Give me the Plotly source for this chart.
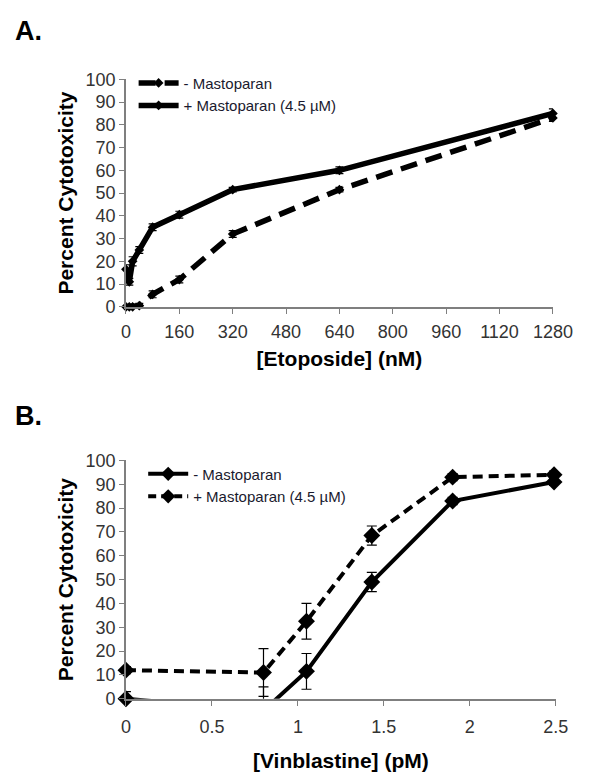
import plotly.graph_objects as go

# ---------------- Data ----------------
# Panel A: Etoposide (nM)
eto_dose = [0, 10, 20, 40, 80, 160, 320, 640, 1280]
eto_minus = [0, 0, 0, 0.5, 5.5, 12, 32, 51.5, 83]
eto_minus_err = [1, 1, 1, 1, 1.5, 1.5, 1.5, 1, 1.5]
eto_plus = [16.5, 11, 20, 25, 35, 40.5, 51.5, 60, 85]
eto_plus_err = [2, 1.5, 2, 1.5, 1.5, 1.5, 1, 1.5, 2]
eto_ticks = [0, 160, 320, 480, 640, 800, 960, 1120, 1280]

# Panel B: Vinblastine (pM)
vin_dose = [0, 0.8, 1.05, 1.43, 1.9, 2.49]
vin_minus = [0, -5, 11.5, 49, 83, 91]
vin_minus_err = [3, 10, 7.5, 4, 1.5, 1.5]
vin_plus = [12, 11, 32.5, 68.5, 93, 94]
vin_plus_err = [1.5, 10, 7.5, 4, 1.5, 1.5]
vin_ticks = [0, 0.5, 1, 1.5, 2, 2.5]
vin_ticklabels = ["0", "0.5", "1", "1.5", "2", "2.5"]

y_ticks = list(range(0, 101, 10))

FONT = "Arial, Liberation Sans, sans-serif"
OFF = 8                      # default page body margin
W, H = 601 - 2 * OFF, 780 - 2 * OFF

def px(x):
    return (x - OFF) / W

def py(y):
    return 1 - (y - OFF) / H

fig = go.Figure()

# ---------- Panel A ----------
fig.add_trace(go.Scatter(
    x=eto_dose, y=eto_minus, mode="lines+markers", name="- Mastoparan",
    line=dict(color="black", width=5.5, dash="17px,9px"),
    marker=dict(symbol="diamond", size=7.5, color="black"),
    error_y=dict(type="data", array=eto_minus_err, color="black", thickness=1.2, width=4),
    cliponaxis=False, xaxis="x", yaxis="y", legend="legend"))
fig.add_trace(go.Scatter(
    x=eto_dose, y=eto_plus, mode="lines+markers", name="+ Mastoparan (4.5 µM)",
    line=dict(color="black", width=5.5),
    marker=dict(symbol="diamond", size=7.5, color="black"),
    error_y=dict(type="data", array=eto_plus_err, color="black", thickness=1.2, width=4),
    cliponaxis=False, xaxis="x", yaxis="y", legend="legend"))

# ---------- Panel B ----------
vis = [v >= 0 for v in vin_minus]
fig.add_trace(go.Scatter(
    x=vin_dose, y=vin_minus, mode="lines", showlegend=False,
    line=dict(color="black", width=4),
    error_y=dict(type="data", array=[0 if s else e for s, e in zip(vis, vin_minus_err)],
                 arrayminus=[0] * len(vin_dose), color="black", thickness=1.2, width=5),
    cliponaxis=True, xaxis="x2", yaxis="y2"))
fig.add_trace(go.Scatter(
    x=[d for d, s in zip(vin_dose, vis) if s], y=[v for v, s in zip(vin_minus, vis) if s],
    mode="markers", showlegend=False,
    marker=dict(symbol="diamond", size=13, color="black"),
    error_y=dict(type="data", array=[e for e, s in zip(vin_minus_err, vis) if s],
                 color="black", thickness=1.2, width=5),
    cliponaxis=False, xaxis="x2", yaxis="y2"))
fig.add_trace(go.Scatter(
    x=vin_dose, y=vin_plus, mode="lines+markers", showlegend=False,
    line=dict(color="black", width=4, dash="10px,6px"),
    marker=dict(symbol="diamond", size=13, color="black"),
    error_y=dict(type="data", array=vin_plus_err, color="black", thickness=1.2, width=5),
    cliponaxis=False, xaxis="x2", yaxis="y2"))
fig.add_trace(go.Scatter(
    x=[None], y=[None], mode="lines+markers", name="- Mastoparan",
    line=dict(color="black", width=4),
    marker=dict(symbol="diamond", size=11, color="black"),
    xaxis="x2", yaxis="y2", legend="legend2"))
fig.add_trace(go.Scatter(
    x=[None], y=[None], mode="lines+markers", name="+ Mastoparan (4.5 µM)",
    line=dict(color="black", width=4, dash="8px,5px"),
    marker=dict(symbol="diamond", size=11, color="black"),
    xaxis="x2", yaxis="y2", legend="legend2"))

axis_common = dict(
    showline=True, linecolor="#7f7f7f", linewidth=1.5, ticks="outside",
    tickcolor="#7f7f7f", ticklen=5, tickwidth=1.2, showgrid=False, zeroline=False,
    tickfont=dict(family=FONT, size=18, color="#333333"),
)
title_font = dict(family=FONT, size=21, color="black")
leg_font = dict(family=FONT, size=15, color="#1a1a2e")

fig.update_layout(
    width=W, height=H, margin=dict(l=0, r=0, t=0, b=0),
    paper_bgcolor="white", plot_bgcolor="white",
    font=dict(family=FONT, color="black"),
    xaxis=dict(domain=[px(126), px(572)], anchor="y", range=[0, 1280],
               tickvals=eto_ticks, ticklabelstandoff=3,
               title=dict(text="<b>[Etoposide] (nM)</b>", font=title_font, standoff=10),
               **axis_common),
    yaxis=dict(domain=[py(305), py(71)], anchor="x", range=[0, 100], tickvals=y_ticks,
               title=dict(text="<b>Percent Cytotoxicity</b>", font=title_font, standoff=6),
               **axis_common),
    xaxis2=dict(domain=[px(126), px(575)], anchor="y2", range=[0, 2.5],
                tickvals=vin_ticks, ticktext=vin_ticklabels, ticklabelstandoff=6,
                title=dict(text="<b>[Vinblastine] (pM)</b>", font=title_font, standoff=20),
                **axis_common),
    yaxis2=dict(domain=[py(708), py(463)], anchor="x2", range=[0, 100], tickvals=y_ticks,
                title=dict(text="<b>Percent Cytotoxicity</b>", font=title_font, standoff=6),
                **axis_common),
    legend=dict(x=px(134), y=py(58), xanchor="left", yanchor="top",
                bgcolor="rgba(0,0,0,0)", font=leg_font, tracegroupgap=0, itemwidth=40),
    legend2=dict(x=px(144), y=py(460), xanchor="left", yanchor="top",
                 bgcolor="rgba(0,0,0,0)", font=leg_font, tracegroupgap=0, itemwidth=40),
    annotations=[
        dict(text="<b>A.</b>", x=px(8), y=py(21), xref="paper", yref="paper",
             xanchor="left", yanchor="middle", showarrow=False,
             font=dict(family=FONT, size=27, color="black")),
        dict(text="<b>B.</b>", x=px(8), y=py(417), xref="paper", yref="paper",
             xanchor="left", yanchor="middle", showarrow=False,
             font=dict(family=FONT, size=27, color="black")),
    ],
)

fig.write_html("out.html")
